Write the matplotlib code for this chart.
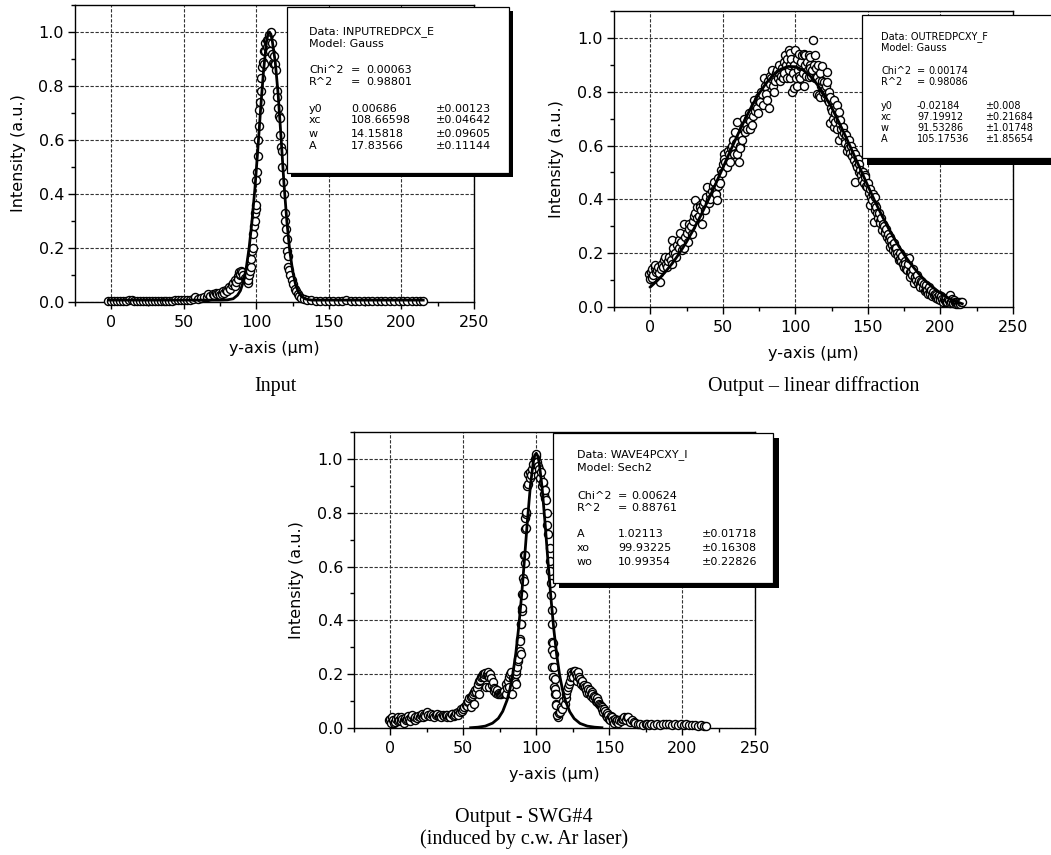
import matplotlib
matplotlib.use("Agg")
import matplotlib.pyplot as plt
from matplotlib.patches import Rectangle
from matplotlib.ticker import MultipleLocator, FormatStrFormatter

# ---------------- data: Input (panel 1) ----------------
x1 = [
    -2, 0, 2, 4, 6, 8, 10, 12, 14, 16,
    18, 20, 22, 24, 26, 28, 30, 32, 34, 36,
    38, 40, 42, 44, 46, 48, 50, 52, 54, 56,
    58, 60, 62, 64, 66, 67, 68, 70, 71, 72,
    73, 74, 75, 76, 77, 78, 79, 80, 81, 82,
    83, 84, 85, 85.5, 86, 87, 87.5, 88, 88.5, 89,
    89.5, 90, 91, 92, 93, 94, 94.5, 95, 95.5, 96,
    96.5, 97, 97.5, 98, 98.5, 99, 99, 99.5, 100, 100,
    100.5, 101, 101, 101.5, 102, 102.5, 103, 103.5, 104, 104.5,
    105, 105.5, 106, 106, 107, 107.5, 108, 108.5, 109, 109.5,
    110, 110.5, 111, 111.5, 112, 112.5, 113, 113.5, 114, 114.5,
    115, 115.5, 116, 116.5, 117, 117.5, 118, 118.5, 119, 119.5,
    120, 120.3, 120.8, 121, 121.5, 122, 122.5, 123.5, 124.5, 125.5,
    126.5, 127.5, 128.5, 129.5, 131, 133, 135, 138, 141, 144,
    147, 150, 153, 156, 159, 162, 165, 168, 171, 174,
    177, 180, 183, 186, 189, 192, 195, 198, 201, 204,
    207, 210, 213, 215]
y1 = [
    0.005, 0.004, 0.005, 0.004, 0.005, 0.005, 0.004, 0.006, 0.009, 0.005,
    0.004, 0.005, 0.005, 0.004, 0.005, 0.005, 0.004, 0.005, 0.005, 0.004,
    0.005, 0.005, 0.005, 0.006, 0.006, 0.007, 0.006, 0.007, 0.008, 0.010,
    0.018, 0.012, 0.015, 0.020, 0.018, 0.028, 0.022, 0.030, 0.025, 0.035,
    0.028, 0.033, 0.025, 0.030, 0.040, 0.032, 0.045, 0.040, 0.055, 0.048,
    0.062, 0.070, 0.058, 0.082, 0.075, 0.095, 0.085, 0.110, 0.100, 0.105,
    0.115, 0.112, 0.100, 0.090, 0.085, 0.070, 0.080, 0.100, 0.115, 0.130,
    0.160, 0.190, 0.200, 0.250, 0.280, 0.300, 0.330, 0.345, 0.360, 0.450,
    0.480, 0.540, 0.600, 0.650, 0.710, 0.740, 0.780, 0.830, 0.870, 0.890,
    0.880, 0.930, 0.960, 0.930, 0.970, 0.945, 0.970, 0.960, 0.990, 0.930,
    1.000, 0.960, 0.920, 0.885, 0.910, 0.880, 0.880, 0.860, 0.780, 0.760,
    0.720, 0.690, 0.680, 0.620, 0.575, 0.560, 0.500, 0.445, 0.400, 0.330,
    0.300, 0.270, 0.235, 0.190, 0.170, 0.130, 0.120, 0.100, 0.080, 0.065,
    0.050, 0.040, 0.030, 0.022, 0.015, 0.010, 0.008, 0.006, 0.005, 0.005,
    0.004, 0.005, 0.005, 0.004, 0.005, 0.006, 0.005, 0.004, 0.005, 0.005,
    0.004, 0.005, 0.005, 0.004, 0.005, 0.005, 0.004, 0.005, 0.005, 0.004,
    0.005, 0.005, 0.004, 0.005]
fit1_x = [-2, 20, 40, 60, 75, 80, 84, 87, 89, 91,
          93, 95, 97, 99, 101, 103, 105, 107, 108, 109,
          110, 111, 113, 115, 117, 119, 121, 123, 125, 127,
          129, 131, 134, 138, 150, 215]
fit1_y = [0.007, 0.007, 0.007, 0.007, 0.007, 0.008, 0.012, 0.025, 0.042, 0.075,
          0.125, 0.200, 0.300, 0.420, 0.565, 0.720, 0.860, 0.965, 0.992, 1.000,
          0.992, 0.966, 0.890, 0.770, 0.610, 0.440, 0.300, 0.190, 0.115, 0.065,
          0.037, 0.021, 0.011, 0.007, 0.007, 0.007]

# ---------------- data: Output - linear diffraction (panel 2) ----------------
x2 = [
    -1, 0, 0.5, 1, 1.5, 2, 3, 3.4, 4, 4.6,
    5, 6, 6.9, 7.5, 8, 9, 9.5, 10.3, 11, 11.5,
    12, 13, 14, 14.9, 14.9, 15.5, 16, 17.2, 18, 18.5,
    19.5, 20, 20.7, 21.5, 22, 23, 23, 24, 25.3, 26,
    26.4, 27, 28, 28.7, 29.5, 30, 31, 31, 32, 32.5,
    33.3, 34, 34.5, 35, 35.6, 36, 37, 37.9, 38.5, 39.1,
    40.2, 41, 41.5, 42.5, 43, 43.7, 44.5, 45, 46, 46.5,
    47, 48.3, 49, 49.4, 50, 50.6, 51, 51.7, 52.9, 53.5,
    54, 55.2, 55.8, 56.3, 57, 57.5, 58.6, 59.2, 59.8, 59.8,
    60.9, 61.5, 62, 62.5, 63.2, 64, 64.4, 65, 66, 66.7,
    67.2, 67.8, 68.5, 69, 70.1, 70.5, 71.3, 72, 72.5, 73.6,
    74, 74.5, 75.2, 75.9, 76.5, 77, 77.5, 78.2, 79, 79.5,
    80.5, 81, 81.6, 82.3, 82.8, 83.5, 84, 84.5, 85.1, 85.1,
    86, 86.5, 87.4, 88, 88.6, 89, 89.7, 90.2, 90.8, 91.5,
    92, 92.5, 93.1, 93.6, 94, 94.5, 95.4, 95.8, 96.3, 96.6,
    96.6, 97.2, 97.7, 98.2, 98.9, 99.3, 100, 100.5, 101.1, 101.1,
    101.7, 102.3, 102.8, 103.4, 103.4, 104, 104.6, 105.2, 105.7, 105.7,
    106.3, 106.9, 107.5, 108, 108.6, 109.2, 109.2, 109.8, 110.3, 110.3,
    111, 111.5, 112.2, 112.7, 113.2, 113.8, 114.3, 114.9, 115, 115.5,
    116.1, 116.6, 117.2, 117.2, 117.8, 118.4, 118.4, 119, 119.5, 119.5,
    120.2, 120.8, 121.3, 121.8, 121.8, 122.4, 123, 123.5, 124.1, 124.1,
    124.6, 125.3, 125.8, 126.4, 126.4, 127, 127.5, 128.1, 128.7, 128.7,
    129.3, 129.9, 129.9, 130.5, 131, 131.6, 132.2, 132.7, 133.3, 133.9,
    134.5, 135, 135.6, 136.2, 136.8, 137.3, 137.9, 138.5, 139, 139.6,
    140.2, 140.8, 141.4, 141.9, 142.5, 143.1, 143.6, 144.2, 144.8, 145.4,
    145.9, 146.5, 147.1, 147.7, 148.3, 148.8, 149.4, 150, 150.6, 151.1,
    151.7, 152.3, 152.9, 153.4, 154, 154.6, 155.2, 155.2, 155.8, 156.3,
    156.9, 157.5, 158, 158.6, 159.2, 159.8, 160.4, 160.9, 161.5, 162.1,
    162.7, 163.2, 163.8, 164.4, 165, 165.5, 166.1, 166.7, 167.2, 167.8,
    168.4, 169, 169.5, 170.1, 170.7, 171.3, 171.8, 172.4, 173, 173.6,
    174.1, 174.7, 175.3, 175.9, 176.4, 177, 177.6, 178.2, 178.7, 179.3,
    179.9, 180.5, 181, 181.6, 182.2, 182.8, 183.3, 183.9, 184.5, 185.1,
    185.6, 186.2, 186.8, 187.4, 187.9, 188.5, 189.1, 189.7, 190.3, 190.8,
    191.4, 192, 192.6, 193.1, 193.7, 194.3, 194.8, 195.4, 196, 196.6,
    197.1, 197.7, 198.3, 198.9, 199.4, 200, 200.6, 201.2, 201.7, 202.3,
    202.9, 203.5, 204, 204.6, 205.2, 205.8, 206.3, 206.9, 207.5, 208.1,
    208.6, 209.2, 209.8, 210.4, 211, 211.5, 212.1, 212.7, 213.2, 213.8,
    214.4, 215]
y2 = [
    0.123, 0.105, 0.13, 0.107, 0.14, 0.12, 0.145, 0.157, 0.13, 0.136,
    0.15, 0.125, 0.094, 0.14, 0.16, 0.15, 0.175, 0.184, 0.16, 0.147,
    0.17, 0.185, 0.175, 0.16, 0.249, 0.2, 0.22, 0.2, 0.185, 0.23,
    0.22, 0.25, 0.275, 0.24, 0.21, 0.22, 0.31, 0.26, 0.275, 0.24,
    0.31, 0.29, 0.3, 0.27, 0.32, 0.34, 0.35, 0.398, 0.37, 0.33,
    0.34, 0.38, 0.37, 0.36, 0.31, 0.38, 0.39, 0.36, 0.41, 0.447,
    0.385, 0.42, 0.4, 0.43, 0.45, 0.466, 0.44, 0.42, 0.397, 0.45,
    0.48, 0.46, 0.51, 0.497, 0.53, 0.57, 0.55, 0.54, 0.52, 0.58,
    0.57, 0.54, 0.59, 0.6, 0.62, 0.57, 0.65, 0.61, 0.57, 0.686,
    0.54, 0.6, 0.59, 0.64, 0.62, 0.66, 0.7, 0.65, 0.68, 0.66,
    0.7, 0.72, 0.69, 0.66, 0.676, 0.71, 0.77, 0.73, 0.75, 0.74,
    0.77, 0.72, 0.78, 0.76, 0.8, 0.79, 0.75, 0.85, 0.82, 0.79,
    0.77, 0.84, 0.74, 0.86, 0.83, 0.85, 0.88, 0.82, 0.8, 0.85,
    0.84, 0.87, 0.88, 0.85, 0.9, 0.87, 0.84, 0.86, 0.89, 0.85,
    0.91, 0.87, 0.936, 0.9, 0.85, 0.92, 0.955, 0.88, 0.9, 0.85,
    0.943, 0.92, 0.8, 0.87, 0.813, 0.9, 0.955, 0.85, 0.82, 0.92,
    0.88, 0.94, 0.86, 0.85, 0.894, 0.91, 0.936, 0.87, 0.82, 0.94,
    0.9, 0.936, 0.86, 0.91, 0.88, 0.936, 0.856, 0.9, 0.89, 0.93,
    0.86, 0.88, 0.993, 0.9, 0.85, 0.936, 0.89, 0.856, 0.79, 0.9,
    0.788, 0.84, 0.87, 0.78, 0.82, 0.894, 0.84, 0.8, 0.837, 0.806,
    0.78, 0.82, 0.79, 0.875, 0.837, 0.77, 0.8, 0.76, 0.78, 0.683,
    0.74, 0.73, 0.7, 0.77, 0.67, 0.72, 0.686, 0.74, 0.75, 0.66,
    0.7, 0.726, 0.62, 0.68, 0.695, 0.66, 0.64, 0.67, 0.645, 0.62,
    0.608, 0.64, 0.578, 0.6, 0.62, 0.59, 0.571, 0.6, 0.56, 0.58,
    0.546, 0.57, 0.466, 0.53, 0.52, 0.55, 0.5, 0.53, 0.51, 0.49,
    0.473, 0.5, 0.46, 0.49, 0.484, 0.45, 0.447, 0.46, 0.422, 0.44,
    0.38, 0.41, 0.397, 0.42, 0.317, 0.38, 0.41, 0.36, 0.37, 0.35,
    0.33, 0.348, 0.32, 0.311, 0.33, 0.286, 0.31, 0.3, 0.28, 0.274,
    0.29, 0.26, 0.27, 0.249, 0.26, 0.224, 0.25, 0.23, 0.21, 0.237,
    0.22, 0.2, 0.22, 0.2, 0.19, 0.175, 0.2, 0.18, 0.17, 0.19,
    0.16, 0.15, 0.17, 0.16, 0.14, 0.137, 0.16, 0.181, 0.13, 0.112,
    0.13, 0.12, 0.14, 0.088, 0.11, 0.112, 0.1, 0.12, 0.09, 0.1,
    0.08, 0.075, 0.095, 0.094, 0.07, 0.085, 0.06, 0.063, 0.08, 0.065,
    0.05, 0.075, 0.06, 0.05, 0.065, 0.04, 0.055, 0.044, 0.05, 0.035,
    0.045, 0.038, 0.03, 0.045, 0.035, 0.025, 0.04, 0.03, 0.02, 0.031,
    0.025, 0.035, 0.02, 0.019, 0.03, 0.025, 0.015, 0.044, 0.02, 0.03,
    0.015, 0.025, 0.02, 0.012, 0.02, 0.019, 0.012, 0.02, 0.015, 0.013,
    0.018, 0.02]
fit2_x = [0, 5, 10, 15, 20, 25, 30, 35, 40, 45, 50, 55, 60, 65, 70, 75, 80, 85, 90, 95,
          100, 105, 110, 115, 120, 125, 130, 135, 140, 145, 150, 155, 160, 165, 170,
          175, 180, 185, 190, 195, 200, 205, 210, 215]
fit2_y = [0.074, 0.099, 0.128, 0.161, 0.199, 0.242, 0.290, 0.342, 0.398, 0.457,
          0.517, 0.578, 0.637, 0.694, 0.747, 0.793, 0.833, 0.863, 0.884, 0.894,
          0.893, 0.882, 0.860, 0.828, 0.788, 0.741, 0.687, 0.630, 0.570, 0.510,
          0.450, 0.391, 0.336, 0.284, 0.237, 0.194, 0.157, 0.124, 0.095, 0.072,
          0.052, 0.035, 0.022, 0.012]

# ---------------- data: Output - SWG#4 (panel 3) ----------------
x3 = [
    -1, 0, 0.5, 1, 2, 2.5, 3.4, 4, 5, 5.5,
    6, 6.9, 7.5, 8, 9, 9.5, 10, 11, 11.5, 12,
    13, 13.5, 14, 15, 16, 16.5, 17, 18, 19, 20,
    21, 21.8, 22.5, 23, 24, 25.3, 26, 27, 28, 29,
    30, 31, 32, 33, 34, 35, 36, 37, 37.9, 38.5,
    39, 40, 41, 42, 42.5, 43.5, 44, 45, 46, 46.5,
    47.5, 48.3, 49, 50, 50.6, 51.5, 52.3, 52.9, 53.5, 54,
    55.2, 55.2, 55.8, 56.3, 57, 57.5, 58, 58.6, 59.2, 59.8,
    60.5, 61, 61.5, 62, 62.7, 63.3, 64, 64.4, 65, 65.5,
    66, 66.7, 67.2, 67.8, 67.8, 68.5, 69, 69.5, 70.1, 70.7,
    71.3, 72, 72.5, 73, 73.6, 74.3, 75, 75.9, 76.5, 77.2,
    78.2, 79, 79.3, 80, 80.5, 81.3, 81.6, 82.2, 82.8, 83.6,
    84, 84.7, 85.1, 85.9, 85.9, 86.2, 87, 87.4, 87.7, 88.5,
    88.6, 88.5, 89.3, 89.3, 89.7, 89.9, 90.3, 90.4, 90.8, 90.9,
    91.5, 91.6, 92, 92.1, 92.6, 92.6, 92.8, 93.1, 93.1, 93.9,
    94.3, 94.6, 95.4, 96, 96.6, 97.4, 98, 98.9, 99.5, 99.7,
    100, 100.5, 101.1, 101.5, 102, 102.5, 103.4, 103.8, 104.3, 104.6,
    105.2, 105.7, 105.9, 106.9, 107.2, 107.6, 108.3, 109.2, 109.5, 109.7,
    110, 110.3, 110.7, 111, 110.7, 111.5, 110.9, 112, 111.1, 112,
    111.5, 112.6, 112.2, 113.1, 112.9, 113.8, 113.4, 113.8, 115, 114.5,
    115.7, 116.1, 116.8, 117.9, 118.5, 119.5, 120.2, 120.7, 121.3, 121.8,
    122.4, 123, 123.5, 124.1, 124.7, 125.3, 125.8, 126.4, 127, 127.6,
    128.1, 128.7, 129.3, 129.9, 130.5, 131, 131.6, 132.2, 132.7, 133.3,
    133.9, 134.5, 135, 135.6, 136.2, 136.8, 137.3, 137.9, 138.5, 139,
    139.6, 140.2, 140.8, 141.4, 141.9, 142.5, 143.1, 143.6, 144.2, 144.8,
    145.4, 146, 146.5, 147.1, 147.7, 148.3, 148.8, 149.4, 150, 150.6,
    151.1, 151.7, 152.3, 152.9, 153.5, 154, 154.6, 155.2, 156, 157,
    158, 159, 159.8, 160.5, 161.5, 162.5, 163.2, 164.4, 165.5, 166.7,
    168, 169.5, 171.3, 173, 175, 175.9, 177.5, 179, 181, 183,
    185, 187, 189, 191, 193, 195, 197, 199, 201, 203,
    205, 207, 209, 211, 213, 215, 216.5]
y3 = [
    0.028, 0.035, 0.02, 0.04, 0.03, 0.018, 0.022, 0.035, 0.04, 0.025,
    0.03, 0.04, 0.025, 0.035, 0.03, 0.02, 0.038, 0.028, 0.034, 0.045,
    0.035, 0.025, 0.04, 0.047, 0.035, 0.03, 0.042, 0.038, 0.045, 0.04,
    0.05, 0.053, 0.04, 0.048, 0.045, 0.059, 0.05, 0.045, 0.052, 0.048,
    0.04, 0.047, 0.052, 0.045, 0.05, 0.04, 0.048, 0.045, 0.047, 0.04,
    0.05, 0.045, 0.04, 0.052, 0.053, 0.045, 0.05, 0.055, 0.059, 0.048,
    0.06, 0.071, 0.065, 0.07, 0.077, 0.085, 0.08, 0.096, 0.1, 0.11,
    0.114, 0.077, 0.12, 0.127, 0.135, 0.09, 0.14, 0.133, 0.15, 0.164,
    0.175, 0.127, 0.18, 0.188, 0.195, 0.2, 0.19, 0.2, 0.205, 0.151,
    0.2, 0.207, 0.195, 0.188, 0.151, 0.2, 0.185, 0.16, 0.17, 0.15,
    0.139, 0.145, 0.13, 0.14, 0.127, 0.13, 0.125, 0.127, 0.13, 0.135,
    0.139, 0.128, 0.164, 0.15, 0.175, 0.153, 0.188, 0.2, 0.207, 0.128,
    0.185, 0.177, 0.17, 0.202, 0.165, 0.213, 0.227, 0.25, 0.258, 0.287,
    0.33, 0.323, 0.275, 0.386, 0.385, 0.433, 0.446, 0.497, 0.496, 0.558,
    0.545, 0.644, 0.613, 0.74, 0.643, 0.779, 0.796, 0.742, 0.803, 0.9,
    0.908, 0.944, 0.951, 0.93, 0.939, 0.962, 0.98, 1.0, 0.995, 1.01,
    1.018, 0.99, 0.975, 0.94, 0.962, 0.93, 0.951, 0.9, 0.91, 0.914,
    0.87, 0.883, 0.855, 0.846, 0.8, 0.754, 0.72, 0.668, 0.62, 0.582,
    0.54, 0.496, 0.44, 0.385, 0.318, 0.317, 0.29, 0.274, 0.226, 0.225,
    0.19, 0.182, 0.153, 0.145, 0.128, 0.127, 0.091, 0.084, 0.042, 0.047,
    0.054, 0.059, 0.079, 0.071, 0.1, 0.09, 0.11, 0.127, 0.14, 0.151,
    0.165, 0.176, 0.19, 0.207, 0.2, 0.188, 0.21, 0.213, 0.2, 0.176,
    0.195, 0.207, 0.19, 0.182, 0.17, 0.164, 0.175, 0.155, 0.16, 0.151,
    0.14, 0.155, 0.13, 0.145, 0.13, 0.14, 0.12, 0.133, 0.125, 0.11,
    0.12, 0.114, 0.1, 0.11, 0.095, 0.102, 0.09, 0.085, 0.08, 0.077,
    0.07, 0.06, 0.07, 0.065, 0.05, 0.055, 0.04, 0.047, 0.035, 0.03,
    0.045, 0.04, 0.025, 0.03, 0.02, 0.035, 0.025, 0.028, 0.02, 0.03,
    0.025, 0.035, 0.034, 0.04, 0.03, 0.042, 0.04, 0.022, 0.03, 0.022,
    0.018, 0.015, 0.016, 0.012, 0.015, 0.016, 0.012, 0.015, 0.013, 0.016,
    0.012, 0.015, 0.014, 0.016, 0.012, 0.015, 0.013, 0.016, 0.012, 0.015,
    0.013, 0.01, 0.012, 0.008, 0.01, 0.008, 0.006]
fit3_x = [55, 60, 65, 70, 74, 77, 80, 82, 84, 86,
          88, 90, 92, 94, 96, 98, 99, 100, 101, 102,
          104, 106, 108, 110, 112, 114, 116, 118, 120, 123,
          126, 130, 135, 140, 145]
fit3_y = [0.001, 0.003, 0.007, 0.018, 0.036, 0.062, 0.104, 0.146, 0.203, 0.279,
          0.377, 0.496, 0.633, 0.775, 0.902, 0.991, 1.014, 1.021, 1.011, 0.986,
          0.893, 0.763, 0.621, 0.486, 0.368, 0.272, 0.197, 0.142, 0.101, 0.060,
          0.035, 0.017, 0.007, 0.003, 0.001]

# ---------------- fit-report texts ----------------
box1_head = ["Data: INPUTREDPCX_E", "Model: Gauss"]
box1_stats = [("Chi^2", "0.00063"), ("R^2", "0.98801")]
box1_params = [("y0", "0.00686", "\u00b10.00123"), ("xc", "108.66598", "\u00b10.04642"),
               ("w", "14.15818", "\u00b10.09605"), ("A", "17.83566", "\u00b10.11144")]
box2_head = ["Data: OUTREDPCXY_F", "Model: Gauss"]
box2_stats = [("Chi^2", "0.00174"), ("R^2", "0.98086")]
box2_params = [("y0", "-0.02184", "\u00b10.008"), ("xc", "97.19912", "\u00b10.21684"),
               ("w", "91.53286", "\u00b11.01748"), ("A", "105.17536", "\u00b11.85654")]
box3_head = ["Data: WAVE4PCXY_I", "Model: Sech2"]
box3_stats = [("Chi^2", "0.00624"), ("R^2", "0.88761")]
box3_params = [("A", "1.02113", "\u00b10.01718"), ("xo", "99.93225", "\u00b10.16308"),
               ("wo", "10.99354", "\u00b10.22826")]

titles = ["Input", "Output \u2013 linear diffraction", "Output - SWG#4", "(induced by c.w. Ar laser)"]

# ---------------- figure ----------------
W, H = 1051, 855
fig = plt.figure(figsize=(W / 100, H / 100), dpi=100)
fig.patch.set_facecolor("white")


def ax_at(left, top, width, height):
    return fig.add_axes([left / W, 1 - (top + height) / H, width / W, height / H])


def style(ax, w_px, h_px):
    ax.set_xlim(-25, 250)
    ax.set_ylim(0, 1.1)
    ax.xaxis.set_major_locator(MultipleLocator(50))
    ax.xaxis.set_minor_locator(MultipleLocator(25))
    ax.yaxis.set_major_locator(MultipleLocator(0.2))
    ax.yaxis.set_minor_locator(MultipleLocator(0.1))
    ax.yaxis.set_major_formatter(FormatStrFormatter("%.1f"))
    ax.tick_params(which="both", direction="out", top=False, right=False, width=1.0, colors="black")
    ax.tick_params(which="major", length=5)
    ax.tick_params(which="minor", length=3)
    ax.tick_params(axis="x", which="major", labelsize=11.5, pad=4)
    ax.tick_params(axis="y", which="major", labelsize=11.5, pad=3)
    ax.grid(True, which="major", linestyle=(0, (3, 1.5)), color="#333333", linewidth=0.8)
    ax.set_axisbelow(True)
    for s in ax.spines.values():
        s.set_linewidth(1.0)
        s.set_color("black")
    ax.set_xlabel("y-axis (\u03bcm)", fontsize=11.5)
    ax.set_ylabel("Intensity (a.u.)", fontsize=11.5)
    ax.xaxis.set_label_coords(0.5, -46 / h_px)
    ax.xaxis.label.set_verticalalignment("center")
    ax.yaxis.set_label_coords(-57 / w_px, 0.5)
    ax.yaxis.label.set_verticalalignment("center")


def draw(ax, xs, ys, fx, fy):
    ax.plot(xs, ys, linestyle="none", marker="o", markersize=5.8, markerfacecolor="white",
            markeredgecolor="black", markeredgewidth=1.0, zorder=3, clip_on=False)
    ax.plot(fx, fy, color="black", linewidth=2.0, zorder=4)


def fit_box(x0, y0, x1, y1, sdx, sdy, head, stats, params, cols, rows, fs):
    fig.add_artist(Rectangle(((x0 + sdx) / W, 1 - (y1 + sdy) / H), (x1 - x0) / W, (y1 - y0) / H,
                             transform=fig.transFigure, facecolor="black", edgecolor="none", zorder=10))
    fig.add_artist(Rectangle((x0 / W, 1 - y1 / H), (x1 - x0) / W, (y1 - y0) / H,
                             transform=fig.transFigure, facecolor="white", edgecolor="black",
                             linewidth=0.9, zorder=11))
    c1, ceq, cval, c3 = cols
    kw = dict(fontsize=fs, va="center", ha="left", zorder=12, family="DejaVu Sans")
    r = 0
    for s in head:
        fig.text(c1 / W, 1 - rows[r] / H, s, **kw)
        r += 1
    for name, val in stats:
        fig.text(c1 / W, 1 - rows[r] / H, name, **kw)
        fig.text(ceq / W, 1 - rows[r] / H, "=", **kw)
        fig.text(cval / W, 1 - rows[r] / H, val, **kw)
        r += 1
    for name, val, err in params:
        fig.text(c1 / W, 1 - rows[r] / H, name, **kw)
        fig.text(ceq / W, 1 - rows[r] / H, val, **kw)
        fig.text(c3 / W, 1 - rows[r] / H, err, **kw)
        r += 1


# panel 1
ax1 = ax_at(75, 5, 399, 297)
style(ax1, 399, 297)
draw(ax1, x1, y1, fit1_x, fit1_y)
fit_box(287, 7, 509, 173, 4, 4, box1_head, box1_stats, box1_params,
        (309, 351, 366, 436), [32, 44, 70, 82, 109, 120, 134, 146], 8)

# panel 2
ax2 = ax_at(614, 11, 399, 296)
style(ax2, 399, 296)
draw(ax2, x2, y2, fit2_x, fit2_y)
fit_box(862, 15, 1062, 158, 5, 7, box2_head, box2_stats, box2_params,
        (881, 917, 928, 985), [37, 48, 71, 82, 106, 117, 128, 139], 7)

# panel 3
ax3 = ax_at(354, 432, 401, 296)
style(ax3, 401, 296)
draw(ax3, x3, y3, fit3_x, fit3_y)
fit_box(553, 433, 773, 583, 6, 5, box3_head, box3_stats, box3_params,
        (577, 618, 631, 702), [455, 468, 496, 508, 534, 548, 562], 8)

# captions
serif = dict(family="Liberation Serif", fontsize=14.5, ha="center", va="center")
fig.text(275 / W, 1 - 386 / H, titles[0], **serif)
fig.text(814 / W, 1 - 386 / H, titles[1], **serif)
fig.text(524 / W, 1 - 817 / H, titles[2], **serif)
fig.text(524 / W, 1 - 839 / H, titles[3], **serif)

fig.savefig("out.png", dpi=100, facecolor="white")
